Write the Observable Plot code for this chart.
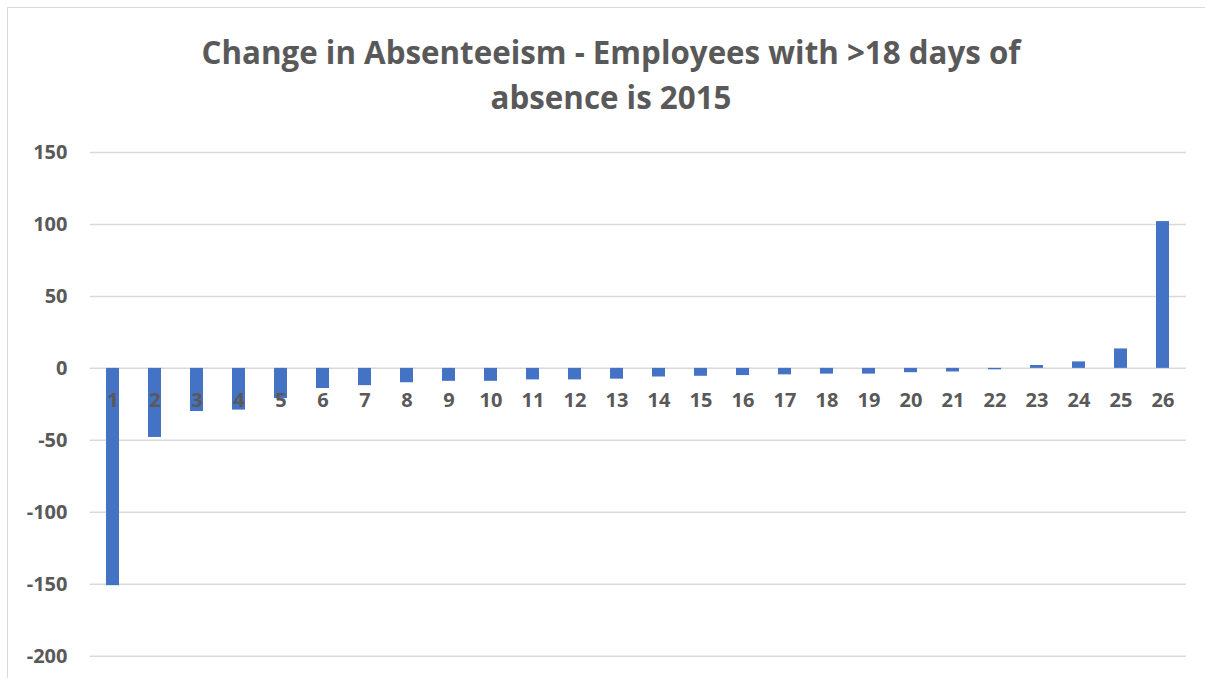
<!DOCTYPE html>
<html>
<head>
<meta charset="utf-8">
<script src="https://cdn.jsdelivr.net/npm/d3@7"></script>
<script src="https://cdn.jsdelivr.net/npm/@observablehq/plot@0.6"></script>
<style>
  html, body { margin: 0; padding: 0; background: #fff; }
  #frame { position: relative; width: 1205px; height: 678px; overflow: hidden; font-family: "Open Sans", sans-serif; }
  #border { position: absolute; left: 7px; top: 7px; width: 1220px; height: 700px; border-left: 1.5px solid #d9d9d9; border-top: 1.5px solid #d9d9d9; box-sizing: border-box; }
  #title { position: absolute; left: 7px; top: 30px; width: 1208px; text-align: center; font-weight: 700; font-size: 31.3px; line-height: 45px; color: #595959; }
  #chart { position: absolute; left: 0; top: 120px; }
</style>
</head>
<body>
<div id="frame">
  <div id="border"></div>
  <div id="title">Change in Absenteeism - Employees with &gt;18 days of<br>absence is 2015</div>
  <div id="chart"></div>
</div>
<script>
// Employee groups ranked by change in absence
const groups = [1, 2, 3, 4, 5, 6, 7, 8, 9, 10, 11, 12, 13, 14, 15, 16, 17, 18, 19, 20, 21, 22, 23, 24, 25, 26];
const changes = [-151, -48, -30, -29, -21, -14, -12, -10, -9, -9, -8, -8, -7.5, -6, -5.5, -5, -4.5, -4, -4, -3, -2.5, -1, 2, 4.5, 13.5, 102];
const yTicks = [-200, -150, -100, -50, 0, 50, 100, 150];

const data = groups.map((g, i) => ({group: g, change: changes[i]}));

const textColor = "#595959";

const chart = Plot.plot({
  width: 1205,
  height: 558,
  marginTop: 32,
  marginBottom: 22.3,
  marginLeft: 90,
  marginRight: 19,
  style: {fontFamily: "'Open Sans', sans-serif", background: "transparent"},
  x: {type: "band", domain: groups, paddingInner: 0.69, paddingOuter: 0.345, axis: null},
  y: {domain: [-200, 150], axis: null},
  marks: [
    Plot.gridY(yTicks, {stroke: "#d9d9d9", strokeOpacity: 1, strokeWidth: 1.5}),
    Plot.barY(data, {x: "group", y: "change", fill: "#4472C4"}),
    Plot.axisY(yTicks, {
      tickSize: 0, tickPadding: 23, fontSize: 20, fontWeight: 700,
      fill: textColor, label: null, tickFormat: d => String(d)
    }),
    Plot.text(data, {
      x: "group", y: () => 0, text: d => String(d.group), dy: 32,
      fontSize: 20, fontWeight: 700, fill: textColor, lineAnchor: "middle"
    })
  ]
});

document.getElementById("chart").appendChild(chart);
</script>
</body>
</html>
